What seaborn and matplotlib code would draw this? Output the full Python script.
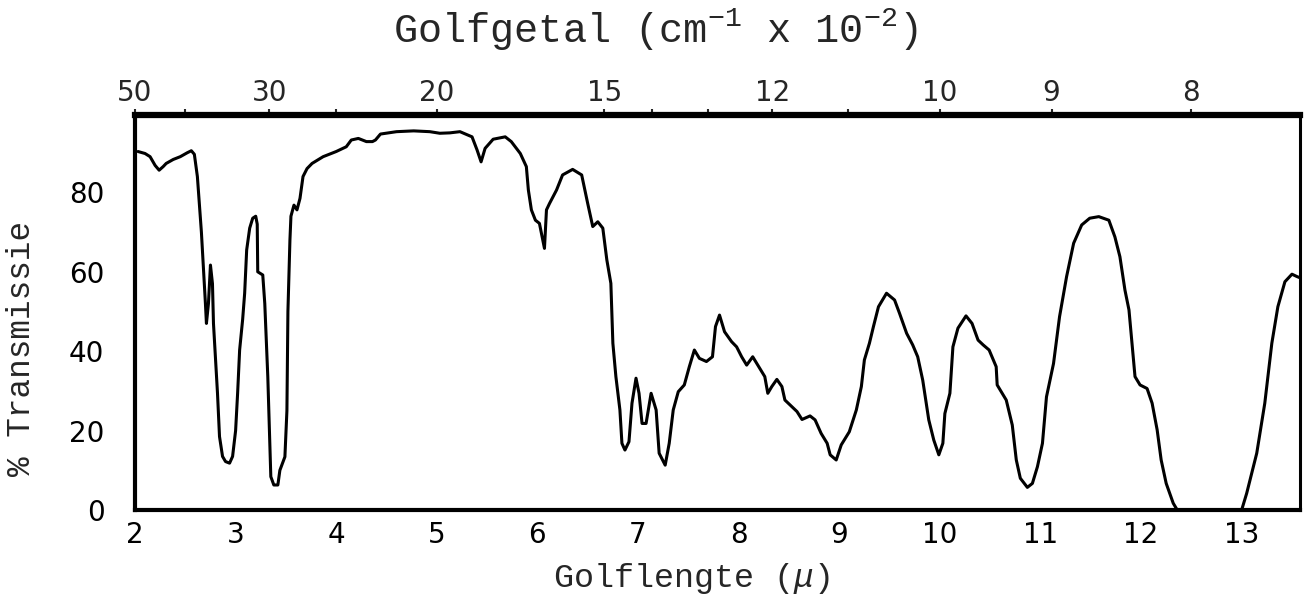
import numpy as np
import pandas as pd
import matplotlib
matplotlib.use("Agg")
import matplotlib.pyplot as plt
from matplotlib.ticker import FixedLocator, NullFormatter
import seaborn as sns

# ---- data ----
wavelength_um = [
    2.03, 2.10, 2.15, 2.20, 2.24, 2.28, 2.31, 2.38, 2.45, 2.52, 2.56, 2.59,
    2.62, 2.64, 2.66, 2.68, 2.70, 2.71, 2.73, 2.75, 2.77, 2.78, 2.80, 2.82,
    2.84, 2.87, 2.90, 2.94, 2.97, 3.00, 3.02, 3.04, 3.07, 3.09, 3.11, 3.14,
    3.17, 3.20, 3.215, 3.22, 3.25, 3.27, 3.29, 3.31, 3.32, 3.34, 3.35, 3.38,
    3.42, 3.44, 3.47, 3.49, 3.51, 3.52, 3.54, 3.55, 3.58, 3.61, 3.64, 3.67,
    3.71, 3.76, 3.87, 4.00, 4.10, 4.15, 4.22, 4.30, 4.36, 4.39, 4.44, 4.60,
    4.77, 4.93, 5.03, 5.13, 5.23, 5.35, 5.40, 5.44, 5.48, 5.56, 5.68, 5.74,
    5.83, 5.89, 5.91, 5.94, 5.98, 6.02, 6.04, 6.07, 6.09, 6.12, 6.19, 6.25,
    6.35, 6.44, 6.50, 6.55, 6.60, 6.65, 6.69, 6.73, 6.75, 6.78, 6.82, 6.84,
    6.87, 6.91, 6.94, 6.98, 7.01, 7.04, 7.08, 7.13, 7.18, 7.21, 7.27, 7.31,
    7.35, 7.40, 7.46, 7.51, 7.56, 7.61, 7.68, 7.74, 7.77, 7.81, 7.86, 7.93,
    7.98, 8.03, 8.08, 8.14, 8.20, 8.26, 8.29, 8.33, 8.38, 8.43, 8.46, 8.53,
    8.58, 8.63, 8.71, 8.76, 8.82, 8.88, 8.91, 8.97, 9.02, 9.10, 9.17, 9.22,
    9.25, 9.30, 9.34, 9.39, 9.47, 9.55, 9.60, 9.67, 9.73, 9.78, 9.83, 9.89,
    9.94, 9.99, 10.03, 10.05, 10.10, 10.13, 10.18, 10.26, 10.32, 10.38, 10.43,
    10.49, 10.56, 10.57, 10.66, 10.72, 10.76, 10.80, 10.87, 10.92, 10.97,
    11.02, 11.06, 11.13, 11.19, 11.26, 11.33, 11.41, 11.49, 11.58, 11.68,
    11.74, 11.79, 11.84, 11.88, 11.91, 11.94, 11.99, 12.06, 12.11, 12.16,
    12.20, 12.25, 12.32, 12.36, 13.00, 13.05, 13.15, 13.23, 13.30, 13.36,
    13.43, 13.50, 13.55, 13.58,
]
transmission_pct = [
    90.3, 89.8, 89.0, 86.8, 85.6, 86.5, 87.3, 88.3, 89.0, 90.0, 90.5, 89.6,
    84.0, 77.0, 70.0, 61.0, 52.0, 47.0, 52.0, 61.7, 57.0, 47.0, 38.0, 29.4,
    18.5, 13.5, 12.2, 11.8, 13.5, 20.0, 29.4, 40.3, 48.0, 54.6, 65.5, 71.0,
    73.5, 74.0, 72.0, 60.0, 59.5, 59.2, 52.0, 40.0, 33.6, 16.8, 8.4, 6.3,
    6.3, 10.0, 12.0, 13.4, 25.0, 50.0, 68.0, 74.0, 76.8, 75.6, 78.5, 84.0,
    86.0, 87.3, 89.0, 90.3, 91.5, 93.2, 93.6, 92.8, 92.8, 93.2, 94.7, 95.3,
    95.5, 95.3, 94.9, 95.0, 95.3, 94.0, 90.7, 87.7, 91.1, 93.4, 94.0, 92.8,
    89.8, 86.5, 80.6, 75.6, 73.0, 72.2, 69.7, 65.9, 75.6, 77.2, 80.6, 84.4,
    85.8, 84.4, 77.2, 71.4, 72.6, 71.0, 63.0, 57.1, 42.0, 33.6, 25.2, 16.8,
    15.1, 17.2, 26.9, 33.2, 29.4, 21.8, 21.8, 29.4, 25.2, 14.3, 11.3, 16.8,
    25.2, 29.8, 31.5, 36.1, 40.3, 38.2, 37.4, 38.6, 46.2, 49.1, 44.9, 42.4,
    41.1, 38.6, 36.5, 38.6, 36.1, 33.6, 29.4, 31.1, 32.9, 31.1, 27.7, 26.0,
    24.8, 22.8, 23.7, 22.7, 19.3, 16.8, 13.9, 12.6, 16.4, 19.7, 25.2, 31.1,
    37.8, 42.0, 46.2, 51.2, 54.6, 52.9, 49.5, 44.5, 41.6, 38.6, 32.7, 22.7,
    17.6, 13.9, 16.8, 24.3, 29.4, 41.1, 45.8, 48.9, 47.0, 42.8, 41.6,
    40.3, 36.1, 31.5, 27.7, 21.4, 12.6, 8.0, 5.7, 6.7, 10.9,
    16.8, 28.5, 36.9, 48.7, 58.8, 67.2, 71.8, 73.5, 73.9, 73.0,
    68.8, 63.8, 55.4, 50.4, 42.0, 33.6, 31.5, 30.6, 26.9, 20.2,
    12.6, 6.7, 1.7, 0.0, 0.0, 4.2, 14.3, 26.9, 42.0, 51.2,
    57.5, 59.4, 58.8, 58.5,
]

x_ticks = [2, 3, 4, 5, 6, 7, 8, 9, 10, 11, 12, 13]
y_ticks = [0, 20, 40, 60, 80]
top_major = [50, 30, 20, 15, 12, 10, 9, 8]      # wavenumber, cm-1 x 10^-2
top_minor = [40, 25, 14, 13, 11]

df = pd.DataFrame({"wl": wavelength_um, "T": transmission_pct})

# ---- style ----
sns.set_style("white")
plt.rcParams["font.family"] = ["DejaVu Sans"]
plt.rcParams["mathtext.fontset"] = "custom"
plt.rcParams["mathtext.rm"] = "Liberation Mono"
plt.rcParams["mathtext.it"] = "Liberation Mono:italic"

fig = plt.figure(figsize=(13.11, 6.01), dpi=100)
ax = fig.add_axes([135 / 1311, 1 - 510 / 601, 1165 / 1311, 395 / 601])

sns.lineplot(data=df, x="wl", y="T", sort=False, color="black",
             linewidth=2.2, ax=ax, estimator=None)

ax.set_xlim(2, 13.58)
ax.set_ylim(0, 99.5)
ax.set_xticks(x_ticks)
ax.set_xticklabels([str(v) for v in x_ticks])
ax.set_yticks(y_ticks)
ax.set_yticklabels([str(v) for v in y_ticks])
ax.tick_params(axis="x", direction="in", length=7, width=1.5, labelsize=20,
               pad=8, colors="black")
ax.tick_params(axis="y", direction="in", length=7, width=1.5, labelsize=20,
               pad=22, colors="black")

for side, lw in {"top": 4.5, "bottom": 3.0, "left": 3.0, "right": 2.2}.items():
    ax.spines[side].set_visible(True)
    ax.spines[side].set_color("black")
    ax.spines[side].set_linewidth(lw)

ax.set_xlabel("Golflengte ($\\mu$)", family="Liberation Mono", fontsize=24)
ax.xaxis.set_label_coords(0.478, -0.128)
ax.set_ylabel("% Transmissie", family="Liberation Mono", fontsize=23.5)
ax.yaxis.set_label_coords(-0.084, 0.41)


def to_wavenumber(x):
    x = np.asarray(x, dtype=float)
    with np.errstate(divide="ignore", invalid="ignore"):
        return 100.0 / x


secax = ax.secondary_xaxis("top", functions=(to_wavenumber, to_wavenumber))
secax.xaxis.set_major_locator(FixedLocator(top_major))
secax.xaxis.set_minor_locator(FixedLocator(top_minor))
secax.set_xticklabels([str(v) for v in top_major])
secax.xaxis.set_minor_formatter(NullFormatter())
secax.tick_params(axis="x", which="major", direction="out", length=4,
                  width=1.5, labelsize=20, pad=2)
secax.tick_params(axis="x", which="minor", direction="out", length=4,
                  width=1.5)
secax.spines["top"].set_visible(False)

fig.text(0.5, 1 - 30 / 601, "Golfgetal (cm$^{-1}$ x 10$^{-2}$)",
         family="Liberation Mono", fontsize=29, ha="center", va="center")

fig.savefig("out.png", dpi=100, facecolor="white")
